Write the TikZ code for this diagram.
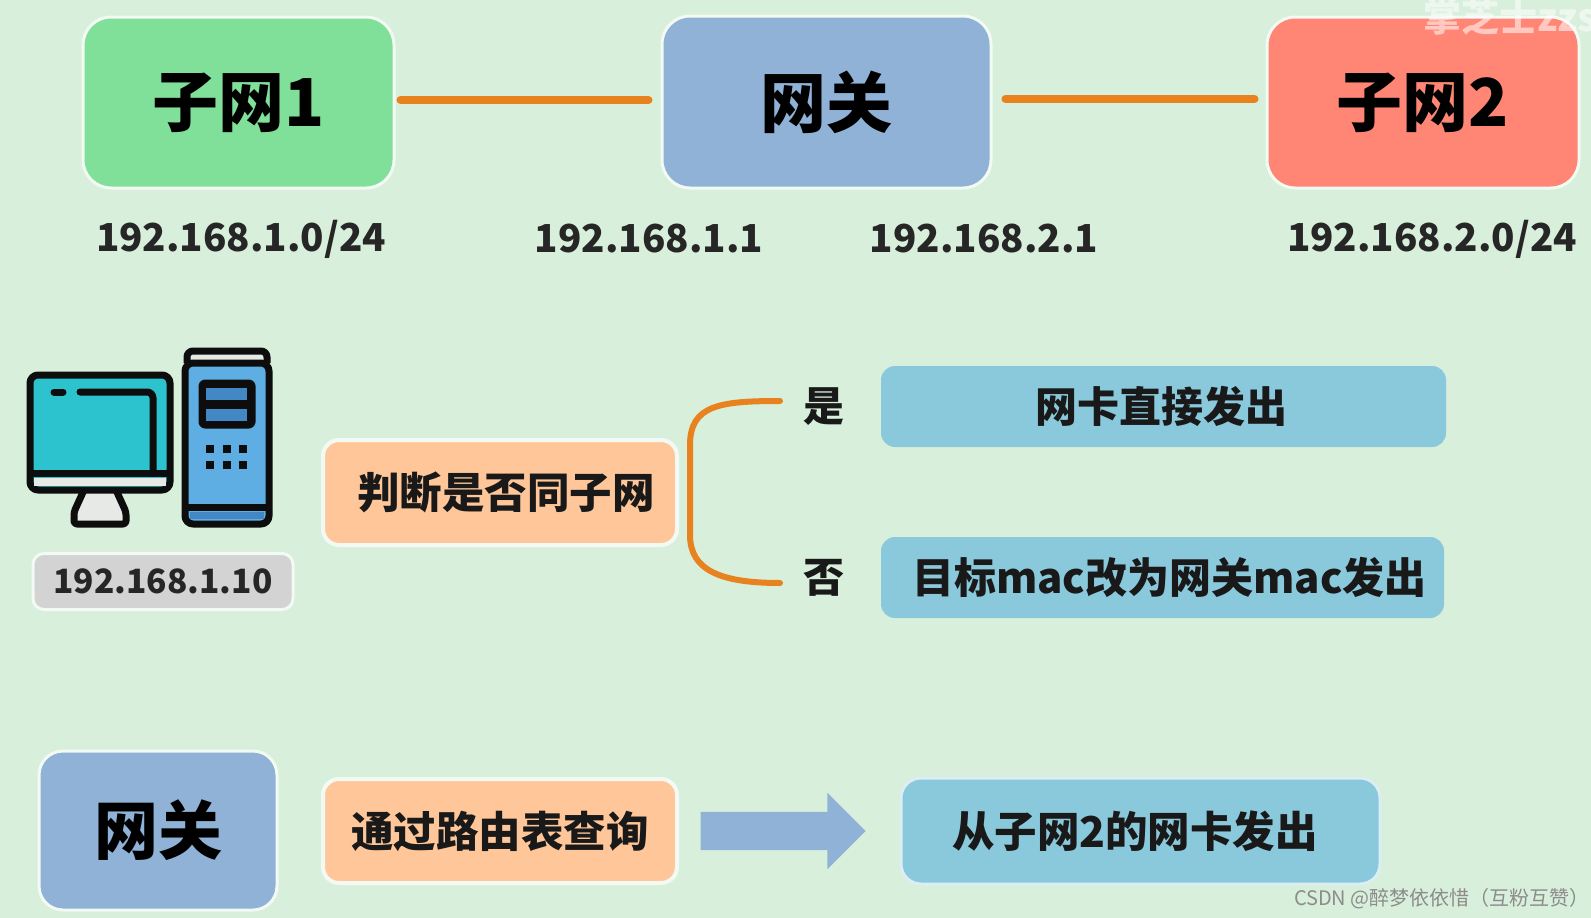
\documentclass[tikz,border=0pt]{standalone}
\usepackage{fontspec}
\setmainfont{Noto Sans CJK SC}
\usetikzlibrary{shapes.arrows}
\definecolor{bgcol}{HTML}{D8EFDB}
\definecolor{wirecol}{HTML}{E8821E}
\definecolor{netgreen}{HTML}{80E09A}
\definecolor{netblue}{HTML}{8FB2D6}
\definecolor{netred}{HTML}{FF8674}
\definecolor{peachcol}{HTML}{FFC799}
\definecolor{tealcol}{HTML}{8AC8DC}
\definecolor{greycol}{HTML}{D3D3D3}
\definecolor{screencol}{HTML}{2CC3CF}
\definecolor{towercol}{HTML}{5FAEE3}
\definecolor{slotcol}{HTML}{4288C4}
\definecolor{palecol}{HTML}{E6E9E6}
\tikzstyle{bigbox} = [rectangle, rounded corners=28pt, inner sep=0pt, draw=white!70!bgcol, line width=3pt, font=\fontsize{66}{72}\selectfont\bfseries, text=black]
\tikzstyle{midbox} = [rectangle, rounded corners=16pt, inner sep=0pt, draw=white!70!bgcol, line width=4pt, fill=peachcol, font=\fontsize{42.5}{46}\selectfont\bfseries, text=black!90]
\tikzstyle{actbox} = [rectangle, rounded corners=14pt, inner sep=0pt, fill=tealcol, font=\fontsize{42}{46}\selectfont\bfseries, text=black!90]
\tikzstyle{iplabel} = [inner sep=0pt, font=\fontsize{38.5}{44}\selectfont\bfseries, text=black!85]
\tikzstyle{wire} = [line width=8pt, color=wirecol, line cap=round]
\tikzstyle{icon} = [line width=7pt, draw=black!95, line join=round]
\begin{document}
\begin{tikzpicture}[x=1pt, y=-1pt]
  \useasboundingbox (0,0) rectangle (1591,918);
  \clip (0,0) rectangle (1591,918);
  \fill[bgcol] (0,0) rectangle (1591,918);

  \node (net1)[bigbox, fill=netgreen, minimum width=311pt, minimum height=171pt] at (238.5,102.5){子网1};
  \node (gate1)[bigbox, fill=netblue, minimum width=329pt, minimum height=172pt] at (826.5,102){网关};
  \node (net2)[bigbox, fill=netred, minimum width=312pt, minimum height=171pt] at (1423,102.5){子网2};
  \draw [wire, shorten >=12pt, shorten <=5pt] (net1.east|-0,100) -- (gate1.west|-0,100);
  \draw [wire, shorten >=11pt, shorten <=13pt] (gate1.east|-0,99) -- (net2.west|-0,99);

  \node (ip1)[iplabel] at (241,239){192.168.1.0/24};
  \node (ip2)[iplabel] at (649,239){192.168.1.1};
  \node (ip3)[iplabel] at (984,239){192.168.2.1};
  \node (ip4)[iplabel] at (1432,239){192.168.2.0/24};

  \draw[icon, fill=palecol, rounded corners=6pt] (187,363) -- (187,351) -- (267,351) -- (267,363);
  \draw[icon, fill=towercol, rounded corners=8pt] (185,363) rectangle (269,524);
  \fill[slotcol] (190,512) rectangle (264,519);
  \draw[icon] (185,507) -- (269,507);
  \draw[icon, fill=black!95, rounded corners=3pt] (202,383) rectangle (252,425);
  \fill[slotcol] (206,388) rectangle (247,400);
  \fill[slotcol] (206,409) rectangle (247,421);
  \foreach \dotx in {210,227,243}
    \foreach \doty in {449,465}
      \fill[black!95] (\dotx-4,\doty-4) rectangle (\dotx+4,\doty+4);
  \draw[icon, fill=palecol, rounded corners=3pt] (84,490) -- (74,512) -- (74,524) -- (126,524) -- (126,512) -- (116,490);
  \draw[icon, fill=screencol, rounded corners=8pt] (30,375) rectangle (170,490);
  \fill[palecol] (34,478) rectangle (166,486);
  \draw[icon] (30,473) -- (170,473);
  \draw[icon, line cap=round, rounded corners=6pt] (80,392) -- (153,392) -- (153,473);
  \draw[icon, line cap=round] (54,392) -- (63,392);

  \node (host)[rectangle, rounded corners=11pt, inner sep=0pt, draw=white!70!bgcol, line width=3pt, fill=greycol, minimum width=260pt, minimum height=56pt, font=\fontsize{33.5}{40}\selectfont\bfseries, text=black!85] at (163,581.5){192.168.1.10};

  \node (decide)[midbox, minimum width=354pt, minimum height=105pt] at (500,492.5){\hspace*{12pt}判断是否同子网};
  \node (yes)[inner sep=0pt, font=\fontsize{41}{46}\selectfont\bfseries, text=black!90] at (824,407){是};
  \node (no)[inner sep=0pt, font=\fontsize{41}{46}\selectfont\bfseries, text=black!90] at (824,578){否};
  \coordinate (yesend) at (780,401);
  \coordinate (noend) at (780,583);
  \draw [wire, line width=6pt] (yesend) .. controls (720,401) and (690,405) .. (690,445) -- (690,535) .. controls (690,570) and (720,583) .. (noend);
  \node (direct)[actbox, minimum width=565pt, minimum height=81pt] at (1163.5,406.5){网卡直接发出\hspace*{4pt}};
  \node (viagw)[actbox, minimum width=563pt, minimum height=81pt] at (1162.5,577.5){\hspace*{14pt}目标mac改为网关mac发出};

  \node (gate2)[bigbox, fill=netblue, minimum width=238pt, minimum height=159pt, rounded corners=24pt, font=\fontsize{64}{70}\selectfont\bfseries] at (158,830.5){网关};
  \node (query)[midbox, minimum width=354pt, minimum height=104pt] at (500,831){通过路由表查询};
  \node (send)[actbox, draw=white!70!tealcol, line width=3pt, rounded corners=20pt, minimum width=479pt, minimum height=106pt, font=\fontsize{42.5}{46}\selectfont\bfseries] at (1140.5,831){从子网2的网卡发出\hspace*{11pt}};
  \node (arrow1)[single arrow, fill=netblue, inner xsep=0pt, inner ysep=19pt, minimum height=165pt, single arrow head extend=19pt, single arrow head indent=0pt, minimum width=38pt] at (773.5,831){};

  \node (mark)[anchor=west, inner sep=0pt, text=white, opacity=0.55, font=\fontsize{38}{42}\selectfont\bfseries] at (1423,17){掌芝士zzs};
  \node (csdn)[anchor=east, inner sep=0pt, text=black!45, font=\fontsize{20}{24}\selectfont] at (1590,899){CSDN @醉梦依依惜（互粉互赞）};
\end{tikzpicture}
\end{document}
